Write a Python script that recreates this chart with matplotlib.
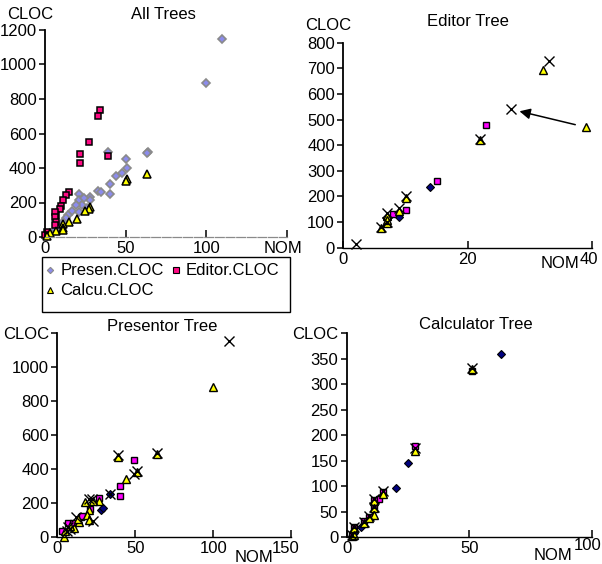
import numpy as np
import matplotlib.pyplot as plt
import matplotlib.transforms as mtransforms
from matplotlib.patches import Rectangle
from matplotlib.lines import Line2D

plt.rcParams['font.family'] = ['Liberation Sans', 'DejaVu Sans']
plt.rcParams['font.size'] = 12

# --- DATA (NOM, CLOC) ---
# All Trees
presen_nom = [110, 100, 64, 63, 39, 50, 51, 48, 44, 40, 40, 33, 35, 28, 28, 21, 21, 24, 23, 19, 17, 14, 13, 26, 21, 11, 9, 6, 3, 1]
presen_cloc = [1150, 890, 492, 487, 490, 455, 400, 372, 354, 305, 250, 268, 259, 234, 212, 250, 215, 225, 188, 188, 148, 128, 108, 167, 147, 89, 60, 41, 21, 7]
editor_nom = [34, 33, 27, 22, 22, 39, 15, 13, 11, 10, 9, 7, 6, 6, 7, 6, 1, 0]
editor_cloc = [735, 703, 550, 481, 427, 472, 263, 243, 214, 180, 160, 128, 147, 118, 89, 70, 31, 12]
calcu_nom = [63, 51, 50, 28, 27, 25, 20, 15, 11, 11, 7, 3, 1, 11]
calcu_cloc = [365, 334, 322, 175, 165, 148, 106, 87, 77, 55, 37, 21, 8, 40]

# Editor Tree
ed_dia_nom = [14, 9, 7]
ed_dia_cloc = [235, 120, 112]
ed_sq_nom = [23, 15, 10, 8]
ed_sq_cloc = [478, 262, 148, 130]
ed_tri_nom = [32, 39, 22, 10, 9, 7, 7, 6, 7]
ed_tri_cloc = [695, 470, 420, 195, 145, 125, 95, 75, 110]
ed_x_nom = [33, 27, 2, 22, 10, 9, 7, 6, 7]
ed_x_cloc = [730, 540, 15, 425, 200, 154, 134, 82, 102]

# Presentor Tree
pr_dia_nom = [34, 28, 29]
pr_dia_cloc = [253, 162, 172]
pr_sq_nom = [49, 40, 40, 27, 21, 15, 7, 10, 3, 16]
pr_sq_cloc = [452, 302, 240, 230, 165, 121, 82, 82, 39, 125]
pr_tri_nom = [100, 39, 64, 44, 51, 27, 23, 18, 20, 19, 20, 14, 11, 4, 5, 8, 13]
pr_tri_cloc = [885, 475, 490, 344, 383, 216, 216, 206, 161, 131, 102, 88, 57, 4, 40, 65, 110]
pr_x_nom = [110, 39, 64, 51, 49, 34, 22, 23, 12, 7, 6, 20, 8]
pr_x_cloc = [1155, 485, 493, 388, 372, 255, 228, 97, 121, 60, 40, 225, 50]

# Calculator Tree
ca_dia_nom = [63, 25, 20, 6, 3, 2]
ca_dia_cloc = [360, 145, 97, 20, 8, 3]
ca_sq_nom = [51, 28, 15, 13, 11, 11, 9, 7, 3, 2]
ca_sq_cloc = [327, 180, 88, 75, 74, 59, 40, 32, 20, 5]
ca_tri_nom = [51, 28, 15, 11, 11, 11, 9, 7, 3, 2, 3]
ca_tri_cloc = [330, 170, 85, 72, 57, 44, 38, 28, 18, 2, 5]
ca_x_nom = [51, 28, 15, 11, 11, 9, 7, 3, 2]
ca_x_cloc = [332, 175, 90, 76, 60, 42, 30, 21, 4]

W, H = 602, 564
fig = plt.figure(figsize=(W / 100, H / 100), dpi=100)


def make_ax(l, r, b, t):
    # pixel box -> figure fraction
    ax = fig.add_axes([l / W, (H - b) / H, (r - l) / W, (b - t) / H])
    ax.spines['top'].set_visible(False)
    ax.spines['right'].set_visible(False)
    ax.spines['left'].set_linewidth(1.3)
    ax.spines['bottom'].set_linewidth(1.0)
    ax.tick_params(axis='y', direction='out', length=4, width=1.1, pad=2)
    ax.tick_params(axis='x', direction='in', length=5, width=1.1, pad=3)
    return ax


def shift_last_xlabel(ax, dx, dy=0):
    lab = ax.get_xticklabels()[-1]
    off = mtransforms.ScaledTranslation(dx / 100, dy / 100, fig.dpi_scale_trans)
    lab.set_transform(lab.get_transform() + off)


def pts(ax, x, y, kind, **kw):
    styles = {
        'dia': dict(marker='D', ms=4.0, mfc='#000080', mec='black', mew=0.8),
        'sq': dict(marker='s', ms=5.0, mfc='#ff00ff', mec='black', mew=1.0),
        'tri': dict(marker='^', ms=6.0, mfc='#ffff00', mec='black', mew=1.0),
        'x': dict(marker='x', ms=6.5, mec='black', mew=1.0),
    }
    st = styles[kind]
    st.update(kw)
    ax.plot(x, y, ls='none', clip_on=False, **st)


# --- All Trees ---
ax1 = make_ax(45, 287, 237, 30)
ax1.plot(presen_nom, presen_cloc, ls='none', marker='D', ms=4.2, mfc='#8c8cec',
         mec='#8a8a8a', mew=1.2, clip_on=False, label='Presen.CLOC')
ax1.plot(editor_nom, editor_cloc, ls='none', marker='s', ms=5.0, mfc='#ff0a84',
         mec='black', mew=1.1, clip_on=False, label='Editor.CLOC')
ax1.plot(calcu_nom, calcu_cloc, ls='none', marker='^', ms=6.2, mfc='#ffff00',
         mec='black', mew=1.1, clip_on=False, label='Calcu.CLOC')
ax1.set_xlim(0, 150)
ax1.set_ylim(0, 1200)
ax1.set_xticks([0, 50, 100, 150])
ax1.set_xticklabels(['0', '50', '100', 'NOM'])
ax1.set_yticks(range(0, 1201, 200))
ax1.spines['bottom'].set_color('#8a8a8a')
ax1.spines['bottom'].set_linestyle((0, (7, 1.5)))
ax1.spines['bottom'].set_linewidth(0.9)
shift_last_xlabel(ax1, -4)
ax1.text(0.488, 1.077, 'All Trees', transform=ax1.transAxes, ha='center', va='center')
ax1.text(-0.062, 1.077, 'CLOC', transform=ax1.transAxes, ha='center', va='center')

# legend box
handles = [
    Line2D([], [], ls='none', marker='D', ms=3.2, mfc='#8c8cec', mec='#8a8a8a', mew=0.8),
    Line2D([], [], ls='none', marker='^', ms=4.5, mfc='#ffff00', mec='black', mew=0.8),
    Line2D([], [], ls='none', marker='s', ms=4.0, mfc='#ff0a84', mec='black', mew=0.8),
]
labels = ['Presen.CLOC', 'Calcu.CLOC', 'Editor.CLOC']
fig.legend(handles, labels, ncol=2, loc='upper left', frameon=False,
           bbox_to_anchor=(41 / W, (H - 260) / H), handlelength=0.7,
           handletextpad=0.25, columnspacing=0.4, labelspacing=0.3,
           borderaxespad=0, borderpad=0.2)
fig.add_artist(Rectangle((42 / W, (H - 312) / H), 248 / W, 55 / H,
                         transform=fig.transFigure, fill=False, ec='black', lw=1.0))

# --- Editor Tree ---
ax2 = make_ax(343.3, 592.3, 247.7, 42.7)
pts(ax2, ed_dia_nom, ed_dia_cloc, 'dia')
pts(ax2, ed_sq_nom, ed_sq_cloc, 'sq')
pts(ax2, ed_tri_nom, ed_tri_cloc, 'tri')
pts(ax2, ed_x_nom, ed_x_cloc, 'x')
ax2.annotate('', xy=(ed_x_nom[1], ed_x_cloc[1]), xytext=(ed_tri_nom[1], ed_tri_cloc[1]),
             arrowprops=dict(arrowstyle='-|>', color='black', lw=1.1,
                             mutation_scale=16, shrinkA=8, shrinkB=6))
ax2.set_xlim(0, 40)
ax2.set_ylim(0, 800)
ax2.set_xticks([0, 20, 40])
ax2.set_yticks(range(0, 801, 100))
shift_last_xlabel(ax2, -3)
ax2.text(0.499, 1.101, 'Editor Tree', transform=ax2.transAxes, ha='center', va='center')
ax2.text(-0.059, 1.086, 'CLOC', transform=ax2.transAxes, ha='center', va='center')
ax2.text(0.87, -0.078, 'NOM', transform=ax2.transAxes, ha='center', va='center')

# --- Presentor Tree ---
ax3 = make_ax(57.3, 291.3, 537.3, 333.3)
pts(ax3, pr_dia_nom, pr_dia_cloc, 'dia')
pts(ax3, pr_sq_nom, pr_sq_cloc, 'sq')
pts(ax3, pr_tri_nom, pr_tri_cloc, 'tri')
pts(ax3, pr_x_nom, pr_x_cloc, 'x')
ax3.set_xlim(0, 150)
ax3.set_ylim(0, 1200)
ax3.set_xticks([0, 50, 100, 150])
ax3.set_yticks(range(0, 1201, 200))
ax3.set_yticklabels(['0', '200', '400', '600', '800', '1000', 'CLOC'])
shift_last_xlabel(ax3, -6)
ax3.text(0.45, 1.031, 'Presentor Tree', transform=ax3.transAxes, ha='center', va='center')
ax3.text(0.84, -0.097, 'NOM', transform=ax3.transAxes, ha='center', va='center')

# --- Calculator Tree ---
ax4 = make_ax(346.7, 591.7, 537.3, 333.3)
pts(ax4, ca_dia_nom, ca_dia_cloc, 'dia')
pts(ax4, ca_sq_nom, ca_sq_cloc, 'sq')
pts(ax4, ca_tri_nom, ca_tri_cloc, 'tri')
pts(ax4, ca_x_nom, ca_x_cloc, 'x')
ax4.set_xlim(0, 100)
ax4.set_ylim(0, 400)
ax4.set_xticks([0, 50, 100])
ax4.set_yticks(range(0, 401, 50))
ax4.set_yticklabels(['0', '50', '100', '150', '200', '250', '300', '350', 'CLOC'])
shift_last_xlabel(ax4, -4, 3)
ax4.text(0.527, 1.041, 'Calculator Tree', transform=ax4.transAxes, ha='center', va='center')
ax4.text(0.842, -0.087, 'NOM', transform=ax4.transAxes, ha='center', va='center')

fig.savefig('out.png', dpi=100)
